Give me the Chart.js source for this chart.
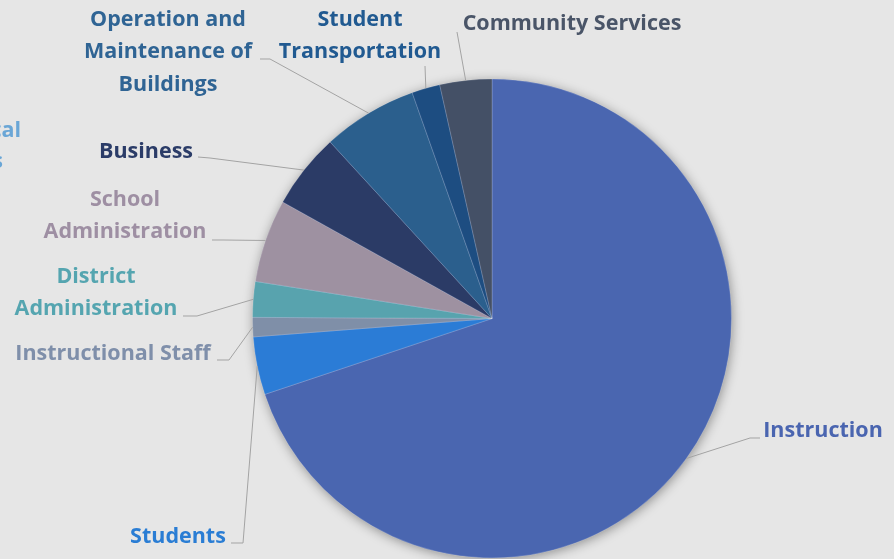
<!DOCTYPE html>
<html>
<head>
<meta charset="utf-8">
<script src="https://cdn.jsdelivr.net/npm/chart.js@4.4.1/dist/chart.umd.min.js"></script>
<style>
  html, body { margin: 0; padding: 0; background: #e6e6e6; overflow: hidden; }
  #wrap { width: 894px; height: 559px; }
</style>
</head>
<body>
<div id="wrap"><canvas id="pie" width="894" height="559"></canvas></div>
<script>
// Spending by function, share of total (%), clockwise from 12 o'clock
const categories = [
  'Instruction',
  'Students',
  'Instructional Staff',
  'District Administration',
  'School Administration',
  'Business',
  'Operation and Maintenance of Buildings',
  'Student Transportation',
  'Community Services'
];
const shares = [69.8, 3.9, 1.3, 2.4, 5.6, 5.1, 6.4, 1.9, 3.5];
const sliceColors = [
  '#4a66b0', '#2b7cd6', '#7f8fa8', '#58a3ae', '#9e91a1',
  '#2b3b66', '#2b5f8d', '#1d4d81', '#445066'
];
const labelColors = [
  '#4a65b0', '#2a7dd4', '#7f8faa', '#55a5b0', '#9e8fa3',
  '#2b3c68', '#2f6494', '#215a91', '#4a5568'
];

// How each category label is written and placed (text lines, centre x, line y's)
// plus the stub of its leader line on the text side.
const labelLayout = [
  { lines: ['Instruction'], x: 823, y: [431], stub: [[760, 438], [750, 438]] },
  { lines: ['Students'], x: 178, y: [537], stub: [[231, 543], [243, 543]] },
  { lines: ['Instructional Staff'], x: 113, y: [354], stub: [[217, 360], [229, 360]] },
  { lines: ['District', 'Administration'], x: 96, y: [277, 309], stub: [[183, 316], [197, 316]] },
  { lines: ['School', 'Administration'], x: 125, y: [200, 232], stub: [[212, 240], [224, 240]] },
  { lines: ['Business'], x: 146, y: [152], stub: [[198, 157], [210, 158]] },
  { lines: ['Operation and', 'Maintenance of', 'Buildings'], x: 168, y: [20, 52, 85], stub: [[260, 59], [270, 59]] },
  { lines: ['Student', 'Transportation'], x: 360, y: [20, 52], stub: [[425, 66]] },
  { lines: ['Community Services'], x: 572, y: [24], stub: [[457, 32]] }
];
// A label that runs off the left edge of the page
const edgeLabel = { lines: ['Technical', 'Services'], rightX: [21, 3], y: [131, 162], color: '#6aa6d6' };

const FONT = '700 21.5px "Open Sans", "DejaVu Sans", sans-serif';

const pieShadow = {
  id: 'pieShadow',
  beforeDatasetsDraw(chart) {
    const arc = chart.getDatasetMeta(0).data[0];
    if (!arc) return;
    const ctx = chart.ctx;
    ctx.save();
    ctx.shadowColor = 'rgba(0,0,0,0.4)';
    ctx.shadowBlur = 12;
    ctx.shadowOffsetX = 1;
    ctx.shadowOffsetY = 2;
    ctx.fillStyle = '#4a66b0';
    ctx.beginPath();
    ctx.arc(arc.x, arc.y, arc.outerRadius - 0.5, 0, Math.PI * 2);
    ctx.fill();
    ctx.restore();
  }
};

const leaderLabels = {
  id: 'leaderLabels',
  afterDatasetsDraw(chart) {
    const ctx = chart.ctx;
    const meta = chart.getDatasetMeta(0);
    ctx.save();
    ctx.font = FONT;
    ctx.textBaseline = 'middle';
    meta.data.forEach((arc, i) => {
      const L = labelLayout[i];
      const mid = (arc.startAngle + arc.endAngle) / 2;
      const px = arc.x + Math.cos(mid) * arc.outerRadius;
      const py = arc.y + Math.sin(mid) * arc.outerRadius;
      ctx.strokeStyle = '#a3a3a3';
      ctx.lineWidth = 1;
      ctx.beginPath();
      ctx.moveTo(L.stub[0][0], L.stub[0][1]);
      for (let k = 1; k < L.stub.length; k++) ctx.lineTo(L.stub[k][0], L.stub[k][1]);
      ctx.lineTo(px, py);
      ctx.stroke();
      ctx.fillStyle = labelColors[i];
      ctx.textAlign = 'center';
      L.lines.forEach((t, j) => ctx.fillText(t, L.x, L.y[j]));
    });
    ctx.fillStyle = edgeLabel.color;
    ctx.textAlign = 'right';
    edgeLabel.lines.forEach((t, j) => ctx.fillText(t, edgeLabel.rightX[j], edgeLabel.y[j]));
    ctx.restore();
  }
};

new Chart(document.getElementById('pie'), {
  type: 'pie',
  data: {
    labels: categories,
    datasets: [{
      data: shares,
      backgroundColor: sliceColors,
      borderColor: 'rgba(255,255,255,0.18)',
      borderWidth: 1
    }]
  },
  options: {
    responsive: false,
    devicePixelRatio: 1,
    animation: false,
    layout: { padding: { left: 252, right: 162, top: 78, bottom: 0 } },
    plugins: {
      legend: { display: false },
      tooltip: { enabled: false },
      title: { display: false }
    }
  },
  plugins: [pieShadow, leaderLabels]
});
</script>
</body>
</html>
